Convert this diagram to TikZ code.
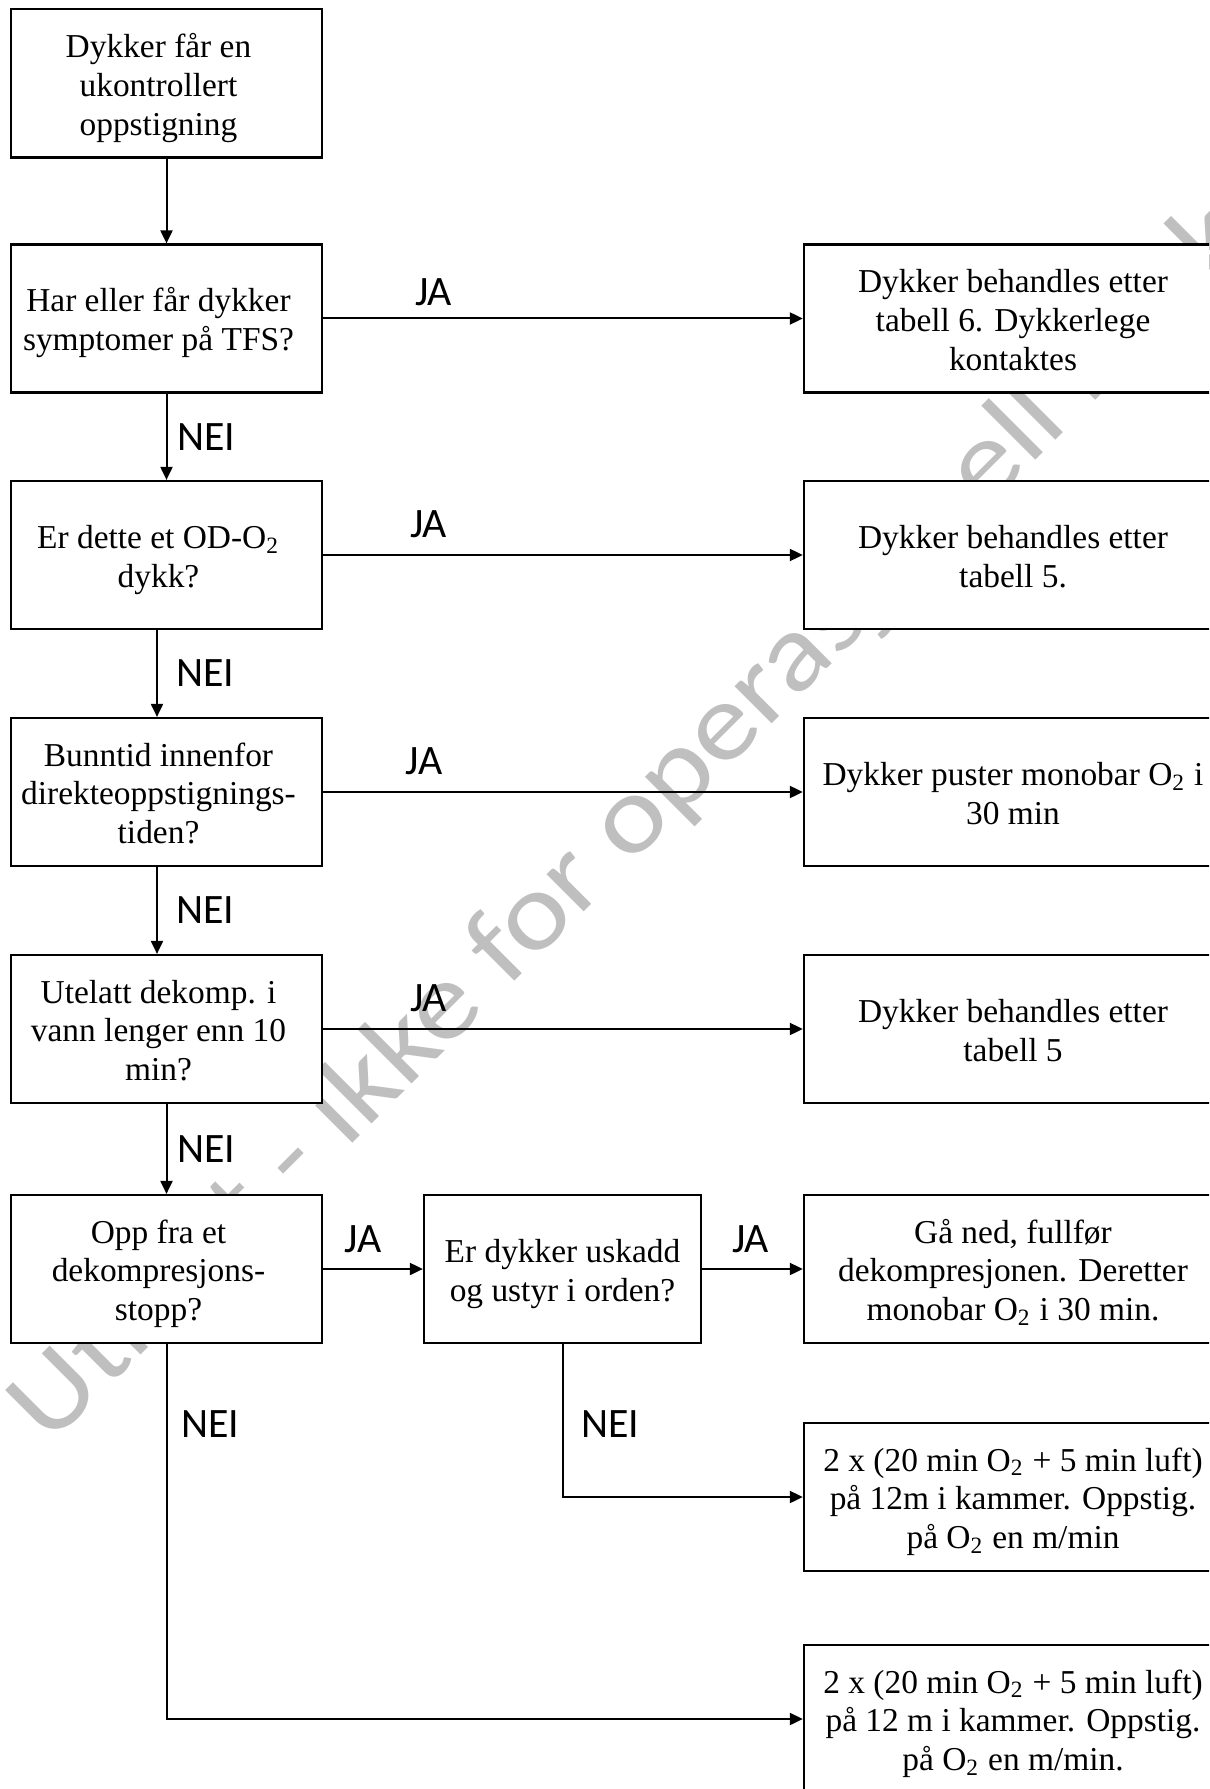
\documentclass[tikz,border=0pt]{standalone}
\usepackage{fontspec}
\setmainfont{Liberation Serif}
\newfontfamily\svarfont{Carlito}
\usetikzlibrary{arrows.meta}
\definecolor{vannmerke}{RGB}{191,191,191}
\newcommand{\tekst}[2][0cm]{\hspace*{#1}\begin{tabular}{@{}c@{}}\rule{0pt}{10.6pt}#2\end{tabular}}

\begin{document}
\begin{tikzpicture}[x=0.01cm,y=-0.01cm,
	boks/.style={draw,line width=0.6pt,fill=white,minimum height=1.48cm,inner sep=0pt,font=\fontsize{9.5pt}{11pt}\selectfont},
	vboks/.style={boks,minimum width=3.11cm},
	hboks/.style={boks,minimum width=4.18cm},
	pil/.style={line width=0.57pt,-{Triangle[length=0.13cm,width=0.12cm]}},
	svar/.style={font=\svarfont\fontsize{11.9pt}{14pt}\selectfont,inner sep=0pt}]
		\clip (0,0) rectangle (1209,1789);
		% vannmerke bak alt
		\node[text=vannmerke,font=\svarfont\fontsize{31.3pt}{36pt}\selectfont,inner sep=0pt,anchor=base west,rotate=45,xscale=1.132] (wm) at (49,1447) {Utkast - ikke for operasjonell bruk};
		
		\node[vboks] (b1) at (166.5,83.5) {\tekst[-0.16cm]{Dykker får en\\ukontrollert\\oppstigning}};
		\node[vboks] (b2) at (166.5,318.5) {\tekst[-0.16cm]{Har eller får dykker\\symptomer på TFS?}};
		\node[vboks] (b3) at (166.5,555) {\tekst[-0.16cm]{Er dette et OD-O\textsubscript{2}\\dykk?}};
		\node[vboks] (b4) at (166.5,792) {\tekst[-0.16cm]{Bunntid innenfor\\direkteoppstignings-\\tiden?}};
		\node[vboks] (b5) at (166.5,1029) {\tekst[-0.16cm]{Utelatt dekomp. i\\vann lenger enn 10\\min?}};
		\node[vboks] (b6) at (166.5,1269) {\tekst[-0.16cm]{Opp fra et\\dekompresjons-\\stopp?}};
		\node[boks,minimum width=2.77cm] (b7) at (562.5,1269) {\tekst{Er dykker uskadd\\og ustyr i orden?}};
		
		\node[hboks] (r1) at (1013,318.5) {\tekst{Dykker behandles etter\\tabell 6. Dykkerlege\\kontaktes}};
		\node[hboks] (r2) at (1013,555) {\tekst{Dykker behandles etter\\tabell 5.}};
		\node[hboks] (r3) at (1013,792) {\tekst{Dykker puster monobar O\textsubscript{2} i\\30 min}};
		\node[hboks] (r4) at (1013,1029) {\tekst{Dykker behandles etter\\tabell 5}};
		\node[hboks] (r5) at (1013,1269) {\tekst{Gå ned, fullfør\\dekompresjonen. Deretter\\monobar O\textsubscript{2} i 30 min.}};
		\node[hboks] (r6) at (1013,1497) {\tekst{2 x (20 min O\textsubscript{2} + 5 min luft)\\på 12m i kammer. Oppstig.\\på O\textsubscript{2} en m/min}};
		\node[hboks] (r7) at (1013,1719) {\tekst{2 x (20 min O\textsubscript{2} + 5 min luft)\\på 12 m i kammer. Oppstig.\\på O\textsubscript{2} en m/min.}};
		
		\draw[pil] (b1) -- (b2);
		\draw[pil] (b2) -- node[svar,above=0.12cm,pos=0.23] {JA} (r1);
		\draw[pil] (b2) -- node[svar,right=0.1cm] {NEI} (b3);
		\draw[pil] (b3) -- node[svar,above=0.16cm,pos=0.22] {JA} (r2);
		\draw[pil] ([xshift=-0.095cm]b3.south) -- node[svar,right=0.18cm] {NEI} ([xshift=-0.095cm]b4.north);
		\draw[pil] (b4) -- node[svar,above=0.16cm,pos=0.21] {JA} (r3);
		\draw[pil] ([xshift=-0.095cm]b4.south) -- node[svar,right=0.18cm] {NEI} ([xshift=-0.095cm]b5.north);
		\draw[pil] (b5) -- node[svar,above=0.16cm,pos=0.22] {JA} (r4);
		\draw[pil] (b5) -- node[svar,right=0.1cm] {NEI} (b6);
		\draw[pil] (b6) -- node[svar,above=0.15cm,pos=0.4] {JA} (b7);
		\draw[pil] (b7) -- node[svar,above=0.15cm,pos=0.48] {JA} (r5);
		\draw[pil] (b7.south) |- node[svar,right=0.18cm,pos=0.26] {NEI} (r6.west);
		\draw[pil] (b6.south) |- node[svar,right=0.14cm,pos=0.107] {NEI} (r7.west);
\end{tikzpicture}
\end{document}
